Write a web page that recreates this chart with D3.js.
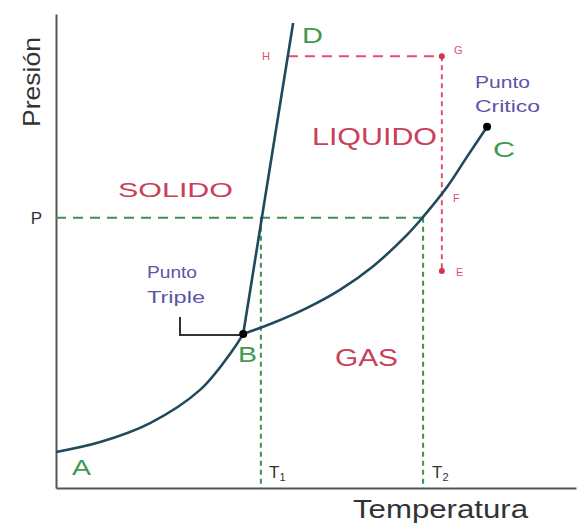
<!DOCTYPE html>
<html>
<head>
<meta charset="utf-8">
<script src="https://cdn.jsdelivr.net/npm/d3@7"></script>
<style>
  body { margin: 0; background: #fff; }
  text { font-family: "Liberation Sans", Arial, sans-serif; }
</style>
<title>Diagrama de fases</title>
</head>
<body>
<script>
// ---- data (temperature / pressure in arbitrary units 0..100) ----
var curveAB = [[0, 7.6], [8.5, 9.7], [18.1, 13.7], [27.7, 20.7], [34.0, 29.1], [36.0, 32.5]]
var curveBC = [[36.0, 32.5], [41.7, 34.8], [48.3, 38.0], [54.6, 41.8], [61.0, 46.8], [67.5, 53.4], [70.6, 57.2], [75.2, 63.5], [79.0, 69.8], [82.9, 76.2]]
var curveBD = [[36.0, 32.5], [45.6, 98.1]]
var pressP = 57.0
var tempT1 = 39.4
var tempT2 = 70.6
var redT = 74.2
var redTop = 91.1
var redBottom = 45.8
var redH = 44.6
var pointB = [36.0, 32.5]
var pointC = [82.9, 76.2]

var width = 583, height = 531

var svg = d3.select('body').append('svg')
  .attr('width', width)
  .attr('height', height)

var x = d3.scaleLinear().domain([0, 100]).range([56, 576])
var y = d3.scaleLinear().domain([0, 100]).range([488, 14])

var line = d3.line()
  .x(function(d) { return x(d[0]) })
  .y(function(d) { return y(d[1]) })
  .curve(d3.curveCatmullRom)

// axes (no ticks, only P label on the left one)
svg.append('g')
  .attr('transform', 'translate(0,488)')
  .call(d3.axisBottom(x).tickValues([]).tickSizeOuter(0))
  .select('.domain').attr('stroke', '#555').attr('stroke-width', 2)

var yAxis = svg.append('g')
  .attr('transform', 'translate(56,0)')
  .call(d3.axisLeft(y).tickValues([pressP]).tickFormat(function() { return 'P' })
    .tickSize(0).tickPadding(14).tickSizeOuter(0))
yAxis.select('.domain').attr('stroke', '#555').attr('stroke-width', 2)
yAxis.selectAll('text').attr('font-size', 17).attr('fill', '#333')
  .attr('font-family', '"Liberation Sans", Arial, sans-serif')

// green dashed guides
svg.append('line')
  .attr('x1', x(0)).attr('x2', x(tempT2))
  .attr('y1', y(pressP)).attr('y2', y(pressP))
  .attr('stroke', '#3f8f4f').attr('stroke-width', 2).attr('stroke-dasharray', '10,7')
;[tempT1, tempT2].forEach(function(t) {
  svg.append('line')
    .attr('x1', x(t)).attr('x2', x(t))
    .attr('y1', y(pressP)).attr('y2', y(0))
    .attr('stroke', '#3f8f4f').attr('stroke-width', 2).attr('stroke-dasharray', '5,4')
})

// red dashed path H-G-E
svg.append('line')
  .attr('x1', x(redH)).attr('x2', x(redT))
  .attr('y1', y(redTop)).attr('y2', y(redTop))
  .attr('stroke', '#e4506a').attr('stroke-width', 2).attr('stroke-dasharray', '10,7')
svg.append('line')
  .attr('x1', x(redT)).attr('x2', x(redT))
  .attr('y1', y(redTop)).attr('y2', y(redBottom))
  .attr('stroke', '#e4506a').attr('stroke-width', 2).attr('stroke-dasharray', '5,4')
;[redTop, redBottom].forEach(function(p) {
  svg.append('circle').attr('cx', x(redT)).attr('cy', y(p)).attr('r', 3).attr('fill', '#d0344e')
})

// phase boundaries
;[curveAB, curveBC, curveBD].forEach(function(c) {
  svg.append('path')
    .datum(c)
    .attr('d', line)
    .attr('fill', 'none')
    .attr('stroke', '#1f4a5c')
    .attr('stroke-width', 2.6)
})

// triple point pointer
svg.append('path')
  .attr('d', 'M180,317 V335 H' + x(pointB[0]))
  .attr('fill', 'none').attr('stroke', '#333').attr('stroke-width', 2)

;[pointB, pointC].forEach(function(p) {
  svg.append('circle').attr('cx', x(p[0])).attr('cy', y(p[1])).attr('r', 4).attr('fill', '#000')
})

// labels
function label(txt, px, py, size, color, len, anchor) {
  var t = svg.append('text')
    .attr('x', px).attr('y', py)
    .attr('font-size', size)
    .attr('fill', color)
    .attr('text-anchor', anchor || 'start')
    .text(txt)
  if (len) t.attr('textLength', len).attr('lengthAdjust', 'spacingAndGlyphs')
  return t
}

label('SOLIDO', 118, 197, 21, '#c8405a', 115)
label('LIQUIDO', 312, 145, 23, '#c8405a', 125)
label('GAS', 335, 366, 23, '#c8405a', 63)

label('Punto', 475, 88, 16, '#5a55a8', 55)
label('Critico', 475, 112, 16, '#5a55a8', 65)
label('Punto', 147, 278, 16, '#5a55a8', 50)
label('Triple', 147, 303, 16, '#5a55a8', 58)

label('A', 72, 475, 22, '#3f9a4f', 19)
label('B', 238, 362, 22, '#3f9a4f', 19)
label('C', 493, 157, 22, '#3f9a4f', 22)
label('D', 302, 43, 22, '#3f9a4f', 21)

label('H', 262, 60, 11, '#e4506a')
label('G', 454, 54, 11, '#e4506a')
label('F', 453, 202, 11, '#e4506a')
label('E', 456, 276, 11, '#e4506a')

var t1 = label('T', 269, 478, 17, '#333')
t1.append('tspan').attr('font-size', 11).attr('dy', 3).text('1')
var t2 = label('T', 432, 478, 17, '#333')
t2.append('tspan').attr('font-size', 11).attr('dy', 3).text('2')

label('Temperatura', 353, 518, 25, '#333', 175)

svg.append('text')
  .attr('transform', 'translate(40,127) rotate(-90)')
  .attr('font-size', 24)
  .attr('fill', '#333')
  .attr('textLength', 90)
  .attr('lengthAdjust', 'spacingAndGlyphs')
  .text('Presión')
</script>
</body>
</html>
